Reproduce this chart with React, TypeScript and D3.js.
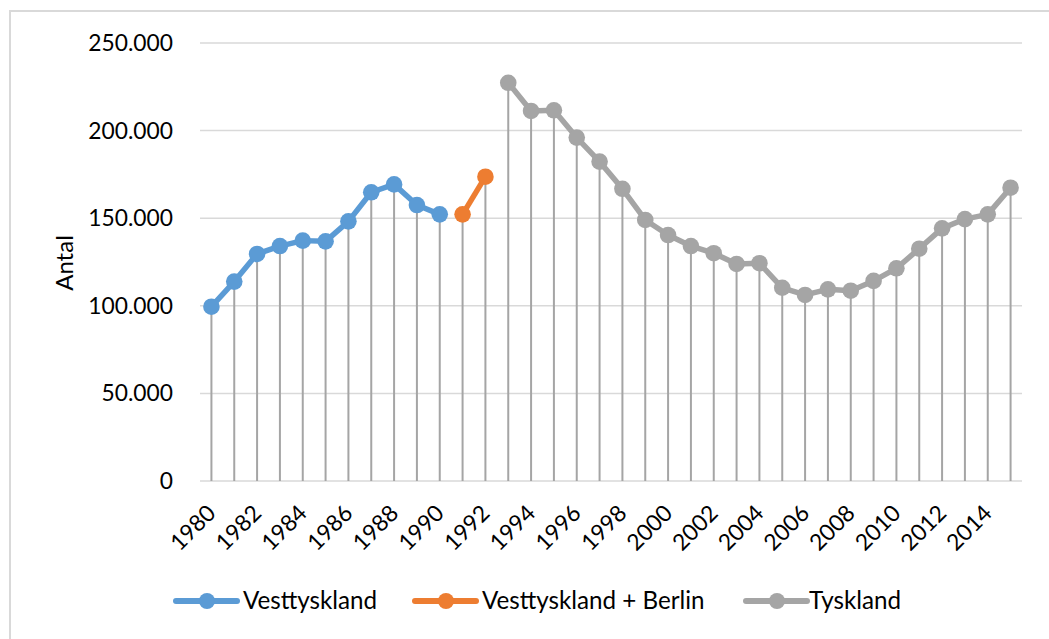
import React, { useEffect } from "react";
import * as d3 from "d3";

const years: number[] = d3.range(1980, 2016);
const vestValues: (number | null)[] = [99500, 113800, 129600, 134100, 137200, 136800, 148200, 164800, 169300, 157500, 152200];
const berlinValues: number[] = [152200, 173700];
const tysklandValues: number[] = [227300, 211200, 211600, 196000, 182300, 166800, 149000, 140400, 134100, 130000, 123900, 124300, 110300, 106200, 109400, 108600, 114200, 121400, 132600, 144200, 149500, 152200, 167400];
const yTicks: number[] = [0, 50000, 100000, 150000, 200000, 250000];
const seriesNames: string[] = ["Vesttyskland", "Vesttyskland + Berlin", "Tyskland"];
const seriesColors: string[] = ["#5B9BD5", "#ED7D31", "#A5A5A5"];

type Pt = { year: number; value: number };

const vest: Pt[] = vestValues.map((v, i) => ({ year: 1980 + i, value: v as number }));
const berlin: Pt[] = berlinValues.map((v, i) => ({ year: 1991 + i, value: v }));
const tyskland: Pt[] = tysklandValues.map((v, i) => ({ year: 1993 + i, value: v }));
const allSeries: Pt[][] = [vest, berlin, tyskland];

const W = 1049;
const H = 639;
const FONT = "Lato, 'Open Sans', sans-serif";

export default function App() {
  useEffect(() => {
    document.body.style.margin = "0";
  }, []);

  const x = d3.scaleBand<number>().domain(years).range([200, 1022]).padding(0);
  const cx = (yr: number) => (x(yr) as number) + x.bandwidth() / 2;
  const y = d3.scaleLinear().domain([0, 250000]).range([481, 43]);
  const fmt = (v: number) => (v === 0 ? "0" : d3.format(",")(v).replace(/,/g, "."));

  const line = d3
    .line<Pt>()
    .x((d) => cx(d.year))
    .y((d) => y(d.value));

  const maxByYear = new Map<number, number>();
  allSeries.forEach((s) =>
    s.forEach((p) => {
      maxByYear.set(p.year, Math.max(maxByYear.get(p.year) ?? 0, p.value));
    })
  );

  const legendItems = [
    { x0: 176, tx: 243 },
    { x0: 415, tx: 482 },
    { x0: 746, tx: 809 },
  ];

  return (
    <svg width={W} height={H} style={{ display: "block" }} fontFamily={FONT}>
      <rect x={0} y={0} width={W} height={H} fill="#fff" />
      <rect x={10} y={11} width={W + 20} height={H + 20} fill="none" stroke="#D9D9D9" strokeWidth={2} />
      {yTicks.map((t) => (
        <g key={t}>
          <line x1={200} x2={1022} y1={y(t)} y2={y(t)} stroke="#D9D9D9" strokeWidth={1.5} />
          <text x={173} y={y(t)} dy="0.35em" textAnchor="end" fontSize={22.8} fill="#000">
            {fmt(t)}
          </text>
        </g>
      ))}
      <text transform="translate(73,263) rotate(-90)" textAnchor="middle" fontSize={24} fill="#000">
        Antal
      </text>
      {years.map((yr) =>
        maxByYear.has(yr) ? (
          <line
            key={"d" + yr}
            x1={cx(yr)}
            x2={cx(yr)}
            y1={y(maxByYear.get(yr) as number)}
            y2={y(0)}
            stroke="#A5A5A5"
            strokeWidth={2}
          />
        ) : null
      )}
      {years
        .filter((yr) => (yr - 1980) % 2 === 0)
        .map((yr) => (
          <text
            key={"t" + yr}
            transform={`translate(${cx(yr)},509) rotate(-45)`}
            textAnchor="end"
            dy="0.35em"
            fontSize={22.8}
            fill="#000"
          >
            {yr}
          </text>
        ))}
      {allSeries.map((s, i) => (
        <g key={"s" + i}>
          <path d={line(s) as string} fill="none" stroke={seriesColors[i]} strokeWidth={5.5} strokeLinejoin="round" />
          {s.map((p) => (
            <circle key={p.year} cx={cx(p.year)} cy={y(p.value)} r={8.3} fill={seriesColors[i]} />
          ))}
        </g>
      ))}
      {legendItems.map((it, i) => (
        <g key={"l" + i}>
          <line x1={it.x0} x2={it.x0 + 61} y1={601} y2={601} stroke={seriesColors[i]} strokeWidth={6} strokeLinecap="round" />
          <circle cx={it.x0 + 31} cy={601} r={8} fill={seriesColors[i]} />
          <text x={it.tx} y={601} dy="0.35em" fontSize={24.2} fill="#000">
            {seriesNames[i]}
          </text>
        </g>
      ))}
    </svg>
  );
}
